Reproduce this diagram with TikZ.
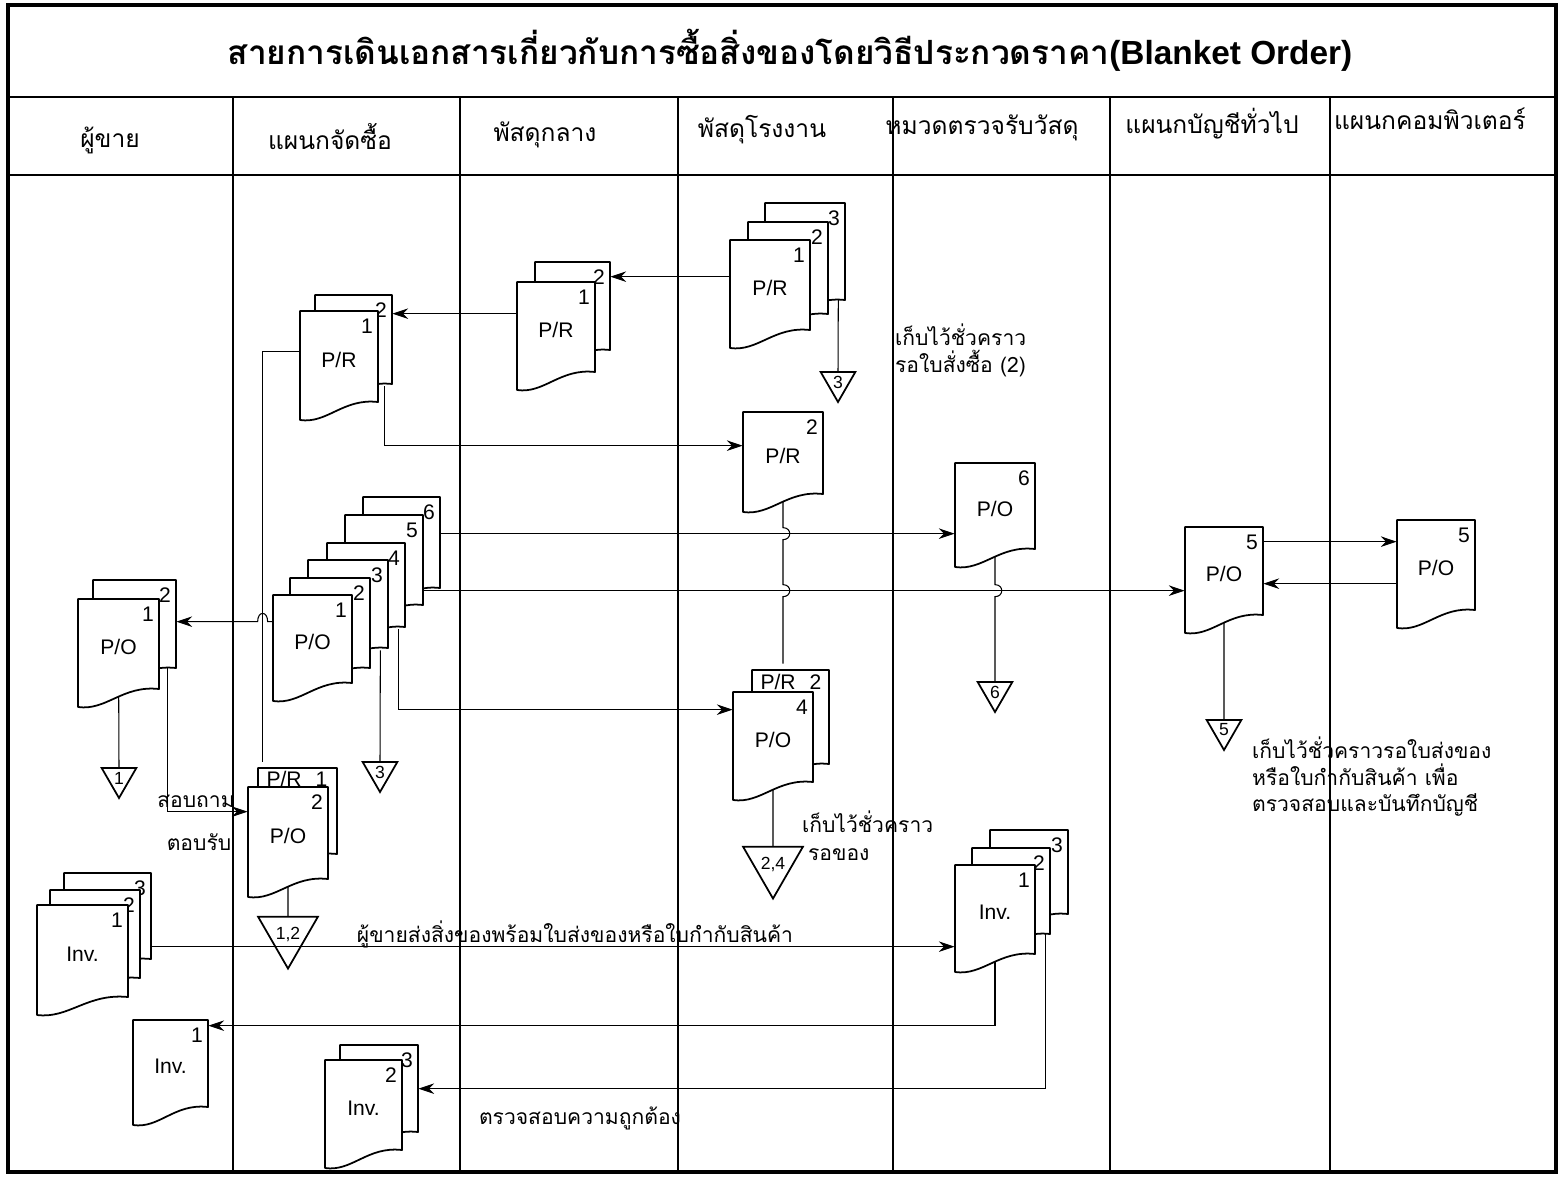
\documentclass[tikz,border=0pt]{standalone}
\usepackage{fontspec}
\setmainfont{Liberation Sans}
\newfontfamily\thaifont[Script=Thai]{Loma}
\usetikzlibrary{arrows.meta,calc,shapes.geometric,backgrounds}

% document with wavy bottom: name, left, top, right, bottom, text, number
\newcommand{\docpage}[7]{%
  \filldraw[docline] (#2,#3) -- (#4,#3) -- (#4,{#5-18}) .. controls ({#4-0.45*(#4-#2)},{#5-22}) and ({#2+0.35*(#4-#2)},{#5+4}) .. (#2,#5) -- cycle;
  \node[doctext, minimum width={(#4-#2)*0.02cm}, minimum height={(#5-#3)*0.02cm}] (#1) at ({(#2+#4)/2},{(#3+#5)/2-6}) {#6};
  \node[docnum] at ({#4-11},{#3+15}) {#7};
}

\begin{document}
\begin{tikzpicture}[x=0.02cm, y=-0.02cm, >={Stealth[length=9pt,width=6pt]},
    frame/.style={line width=1pt},
    docline/.style={fill=white, draw=black, line width=1pt, line join=round},
    doctext/.style={inner sep=0pt, font=\fontsize{12}{14}\selectfont},
    docnum/.style={inner sep=0pt, font=\fontsize{12}{14}\selectfont},
    fileicon/.style={regular polygon, regular polygon sides=3, shape border rotate=180, draw, line width=1pt, minimum size=0.8cm, inner sep=0pt, font=\fontsize{10}{12}\selectfont},
    flow/.style={line width=0.6pt},
    head/.style={font=\thaifont\fontsize{14}{16}\selectfont},
    note/.style={font=\thaifont\fontsize{12}{15}\selectfont, inner sep=1pt}]
\useasboundingbox (0,0) rectangle (1564,1179);

% table
\draw[line width=2.5pt] (8,5) rectangle (1556,1172);
\draw[frame] (8,97) -- (1556,97);
\draw[frame] (8,175) -- (1556,175);
\foreach \x in {233,460,678,893,1110,1330}
  \draw[frame] (\x,97) -- (\x,1172);

\node[font=\thaifont\bfseries\fontsize{19}{23}\selectfont] (title) at (790,50) {สายการเดินเอกสารเกี่ยวกับการซื้อสิ่งของโดยวิธีประกวดราคา{\fontspec{Liberation Sans}(Blanket Order)}};
\node[head] (h1) at (110,140) {ผู้ขาย};
\node[head] (h2) at (330,137) {แผนกจัดซื้อ};
\node[head] (h3) at (545,135) {พัสดุกลาง};
\node[head] (h4) at (762,130) {พัสดุโรงงาน};
\node[head] (h5) at (982,128) {หมวดตรวจรับวัสดุ};
\node[head] (h6) at (1212,124) {แผนกบัญชีทั่วไป};
\node[head] (h7) at (1430,119) {แผนกคอมพิวเตอร์};

% vendor
\docpage{vpob}{93}{580}{176}{686}{}{2}
\docpage{vpoa}{78}{599}{159}{707}{P/O}{1}
\docpage{vinvc}{64}{873}{151}{977}{}{3}
\docpage{vinvb}{50}{890}{140}{996}{}{2}
\docpage{vinva}{37}{905}{128}{1015}{Inv.}{1}
\docpage{vinv1}{133}{1020}{208}{1125}{Inv.}{1}

% purchasing
\docpage{ppr2}{315}{295}{392}{402}{}{2}
\docpage{ppr1}{300}{311}{378}{420}{P/R}{1}
\docpage{ppo6}{363}{497}{440}{606}{}{6}
\docpage{ppo5}{345}{515}{423}{623}{}{5}
\docpage{ppo4}{327}{543}{405}{645}{}{4}
\docpage{ppo3}{308}{560}{388}{666}{}{3}
\docpage{ppo2}{290}{578}{370}{686}{}{2}
\docpage{ppo1}{273}{595}{352}{701}{P/O}{1}
\docpage{pprtab}{258}{768}{337}{872}{}{}
\node[docnum] (pprlbl) at (297,779) {P/R\hspace{8pt}1};
\docpage{ppo2f}{248}{787}{328}{897}{P/O}{2}
\docpage{pinv3}{340}{1045}{418}{1150}{}{3}
\docpage{pinv2}{325}{1060}{402}{1168}{Inv.}{2}

% central stores
\docpage{cpr2}{535}{262}{610}{368}{}{2}
\docpage{cpr1}{517}{282}{595}{390}{P/R}{1}

% plant stores
\docpage{fpr3}{765}{203}{845}{318}{}{3}
\docpage{fpr2}{748}{222}{828}{332}{}{2}
\docpage{fpr1}{730}{240}{810}{348}{P/R}{1}
\docpage{fprs}{743}{412}{823}{512}{P/R}{2}
\docpage{fprtab}{752}{670}{829}{782}{}{}
\node[docnum] (fprlbl) at (791,682) {P/R\hspace{8pt}2};
\docpage{fpo4}{733}{692}{813}{800}{P/O}{4}

% receiving
\docpage{rpo6}{955}{463}{1035}{567}{P/O}{6}
\docpage{rinv3}{990}{830}{1068}{932}{}{3}
\docpage{rinv2}{972}{848}{1050}{952}{}{2}
\docpage{rinv1}{955}{865}{1035}{972}{Inv.}{1}

% accounting, computer
\docpage{apo5}{1185}{527}{1263}{633}{P/O}{5}
\docpage{kpo5}{1397}{520}{1475}{628}{P/O}{5}

% files
\node[fileicon] (t1) at (119,778) {1};
\node[fileicon] (t12) at (288,934) {1,2};
\node[fileicon] (t3a) at (380,772) {3};
\node[fileicon] (t3b) at (838,382) {3};
\node[fileicon] (t24) at (773,864) {2,4};
\node[fileicon] (t6) at (995,692) {6};
\node[fileicon] (t5) at (1224,730) {5};

% notes
\node[note] (n1) at (196,801) {สอบถาม};
\node[note] (n2) at (199,842) {ตอบรับ};
\node[note, align=left, anchor=north west] (n3) at (893,322) {เก็บไว้ชั่วคราว\\รอใบสั่งซื้อ (2)};
\node[note, anchor=west] (n4) at (800,822) {เก็บไว้ชั่วคราว};
\node[note, anchor=west] (n5) at (806,855) {รอของ};
\node[note, align=left, anchor=north west] (n6) at (1250,735) {เก็บไว้ชั่วคราวรอใบส่งของ\\หรือใบกำกับสินค้า เพื่อ\\ตรวจสอบและบันทึกบัญชี};
\node[note] (n7) at (575,934) {ผู้ขายส่งสิ่งของพร้อมใบส่งของหรือใบกำกับสินค้า};
\node[note] (n8) at (580,1118) {ตรวจสอบความถูกต้อง};

\begin{scope}[on background layer]
\draw[flow,->] ($(fpr1.north west)+(0,43)$) coordinate (c1) -- (c1 -| cpr2.east);
\draw[flow,->] ($(cpr1.north west)+(0,38)$) coordinate (c2) -- (c2 -| ppr2.east);
\draw[flow,->] ($(ppr2.south east)+(-8,-10)$) |- ($(fprs.north west)+(0,40)$);
\draw[flow] ($(ppr1.north west)+(0,47)$) -| ($(pprtab.north west)+(5,0)$);
\draw[flow,->] ($(ppo1.north west)+(0,33)$) coordinate (c3) -- ++(-5,0) .. controls +(0,-11) and +(0,-11) .. ++(-10,0) -- (c3 -| vpob.east);
\draw[flow,->] ($(ppo6.north east)+(0,43)$) coordinate (c4) -- (c4 -| rpo6.west);
\draw[flow,->] ($(ppo5.north east)+(0,82)$) coordinate (c5) -- (c5 -| apo5.west);
\draw[flow,->] ($(ppo4.south east)+(-7,-10)$) |- ($(fpo4.north west)+(0,24)$);
\draw[flow] ($(ppo3.south east)+(-8,-10)$) -- (t3a.north);
\draw[flow] (ppo2f.center) -- (t12.north);
\draw[flow] (vpoa.center) -- (t1.north);
\draw[flow,->] ($(vpob.south east)+(-9,-20)$) |- ($(ppo2f.north west)+(0,31)$);
\draw[flow] ($(fpr3.south east)+(-7,-25)$) -- (t3b.north);
\draw[flow] (fprs.center) -- ($(fprs.center |- c4)+(0,-6)$) .. controls +(9,0) and +(9,0) .. ++(0,12)
  -- ($(fprs.center |- c5)+(0,-6)$) .. controls +(9,0) and +(9,0) .. ++(0,12) -- (fprs.center |- fprtab.north);
\draw[flow] (fpo4.center) -- (t24.north);
\draw[flow] (rpo6.center) -- ($(rpo6.center |- c5)+(0,-6)$) .. controls +(9,0) and +(9,0) .. ++(0,12) -- (t6.north);
\draw[flow] (apo5.center) -- (t5.north);
\draw[flow,->] ($(apo5.north east)+(0,21)$) coordinate (c6) -- (c6 -| kpo5.west);
\draw[flow,->] ($(kpo5.north west)+(0,70)$) coordinate (c7) -- (c7 -| apo5.east);
\draw[flow,->] ($(vinvc.north east)+(-3,80)$) coordinate (c8) -- (c8 -| rinv1.west);
\draw[flow,->] (rinv1.center) |- ($(vinv1.north east)+(0,12)$);
\draw[flow,->] ($(rinv2.south east)+(-5,-30)$) |- ($(pinv3.north east)+(0,50)$);
\end{scope}
\end{tikzpicture}
\end{document}
